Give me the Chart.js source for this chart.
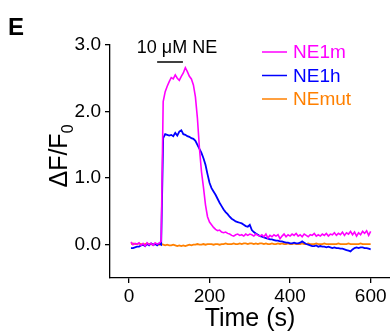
<!DOCTYPE html>
<html>
<head>
<meta charset="utf-8">
<script src="https://cdn.jsdelivr.net/npm/chart.js@4/dist/chart.umd.min.js"></script>
<style>
  html, body { margin: 0; padding: 0; background: #fff; }
  #wrap { width: 390px; height: 334px; }
</style>
</head>
<body>
<div id="wrap"><canvas id="myChart" width="390" height="334"></canvas></div>
<script>
// time (s)
const times = [
    5, 10, 15, 20, 25, 30, 35, 40, 45, 50,
    55, 60, 65, 70, 75, 80, 85, 90, 95, 100,
    105, 110, 115, 120, 125, 130, 135, 140, 145, 150,
    155, 160, 165, 170, 175, 180, 185, 190, 195, 200,
    205, 210, 215, 220, 225, 230, 235, 240, 245, 250,
    255, 260, 265, 270, 275, 280, 285, 290, 295, 300,
    305, 310, 315, 320, 325, 330, 335, 340, 345, 350,
    355, 360, 365, 370, 375, 380, 385, 390, 395, 400,
    405, 410, 415, 420, 425, 430, 435, 440, 445, 450,
    455, 460, 465, 470, 475, 480, 485, 490, 495, 500,
    505, 510, 515, 520, 525, 530, 535, 540, 545, 550,
    555, 560, 565, 570, 575, 580, 585, 590, 595, 600
];

const ne1m = [
    0.04, 0.00, 0.02, 0.01, 0.03, -0.01, 0.02, -0.02, 0.03, 0.00,
    0.02, -0.01, 0.03, 0.01, 0.02, 0.05, 2.15, 2.30, 2.38, 2.45,
    2.51, 2.49, 2.55, 2.50, 2.47, 2.53, 2.58, 2.66, 2.60, 2.53,
    2.49, 2.40, 2.22, 1.90, 1.45, 1.10, 0.86, 0.60, 0.42, 0.34,
    0.30, 0.26, 0.23, 0.21, 0.22, 0.19, 0.18, 0.19, 0.17, 0.16,
    0.14, 0.13, 0.15, 0.16, 0.14, 0.15, 0.13, 0.16, 0.14, 0.16,
    0.15, 0.13, 0.16, 0.14, 0.13, 0.15, 0.12, 0.16, 0.10, 0.14,
    0.12, 0.15, 0.13, 0.15, 0.09, 0.13, 0.16, 0.12, 0.15, 0.13,
    0.16, 0.14, 0.17, 0.13, 0.15, 0.12, 0.16, 0.14, 0.12, 0.15,
    0.14, 0.17, 0.13, 0.15, 0.13, 0.16, 0.14, 0.17, 0.13, 0.16,
    0.15, 0.18, 0.14, 0.17, 0.15, 0.19, 0.14, 0.18, 0.16, 0.20,
    0.15, 0.19, 0.13, 0.18, 0.15, 0.20, 0.17, 0.21, 0.14, 0.20
];

const ne1h = [
    -0.05, -0.05, -0.04, -0.03, -0.03, -0.01, 0.00, -0.02, 0.01, -0.01,
    0.02, 0.00, 0.01, -0.01, 0.02, 0.00, 1.60, 1.66, 1.65, 1.64,
    1.65, 1.63, 1.68, 1.64, 1.70, 1.72, 1.66, 1.65, 1.63, 1.62,
    1.60, 1.59, 1.56, 1.50, 1.44, 1.38, 1.30, 1.20, 1.06, 0.93,
    0.85, 0.80, 0.75, 0.69, 0.63, 0.58, 0.53, 0.49, 0.46, 0.42,
    0.39, 0.37, 0.35, 0.34, 0.33, 0.32, 0.30, 0.28, 0.27, 0.30,
    0.22, 0.19, 0.17, 0.15, 0.13, 0.12, 0.11, 0.10, 0.09, 0.08,
    0.08, 0.07, 0.06, 0.06, 0.05, 0.05, 0.04, 0.03, 0.03, 0.02,
    0.02, 0.03, 0.02, 0.02, 0.03, 0.05, 0.03, 0.01, 0.00, -0.01,
    -0.02, -0.02, -0.01, -0.03, -0.02, -0.03, -0.03, -0.04, -0.03, -0.04,
    -0.05, -0.04, -0.05, -0.05, -0.06, -0.06, -0.07, -0.08, -0.09, -0.10,
    -0.07, -0.05, -0.04, -0.05, -0.04, -0.04, -0.05, -0.05, -0.06, -0.07
];

const nemut = [
    0.01, 0.02, 0.01, 0.01, 0.02, 0.01, 0.00, 0.01, 0.02, 0.01,
    0.01, 0.00, 0.01, 0.01, 0.00, 0.01, 0.00, -0.01, 0.00, -0.01,
    -0.01, 0.00, -0.01, -0.02, -0.01, -0.02, -0.01, -0.02, -0.01, 0.00,
    -0.01, 0.00, 0.00, 0.01, 0.00, 0.00, 0.01, 0.00, 0.01, 0.01,
    0.01, 0.00, 0.01, 0.01, 0.00, 0.01, 0.01, 0.02, 0.01, 0.01,
    0.01, 0.02, 0.01, 0.01, 0.02, 0.01, 0.02, 0.02, 0.01, 0.02,
    0.02, 0.01, 0.02, 0.01, 0.02, 0.02, 0.01, 0.02, 0.01, 0.01,
    0.02, 0.01, 0.01, 0.02, 0.01, 0.02, 0.01, 0.01, 0.02, 0.01,
    0.01, 0.02, 0.01, 0.01, 0.01, 0.02, 0.01, 0.01, 0.02, 0.01,
    0.01, 0.01, 0.02, 0.01, 0.01, 0.01, 0.02, 0.01, 0.01, 0.01,
    0.01, 0.01, 0.01, 0.02, 0.01, 0.01, 0.01, 0.01, 0.02, 0.01,
    0.01, 0.01, 0.01, 0.01, 0.02, 0.01, 0.01, 0.01, 0.01, 0.01
];

const seriesNames = ['NE1m', 'NE1h', 'NEmut'];
const seriesColors = ['#ff00ff', '#0000ff', '#ff8000'];
const xTicks = [0, 200, 400, 600];
const yTicks = [0, 1, 2, 3];
// NE application window (s)
const neOn = 70;
const neOff = 134;

const FONT = '"Liberation Sans", Arial, sans-serif';

function toPoints(vals) {
    return times.map((t, i) => ({ x: t, y: vals[i] }));
}

// panel letter, y title, NE bar and legend
const annotations = {
    id: 'annotations',
    afterDraw(chart) {
        const c = chart.ctx;
        const xs = chart.scales.x;
        c.save();
        c.fillStyle = '#000';

        c.font = 'bold 24px ' + FONT;
        c.textAlign = 'left';
        c.textBaseline = 'alphabetic';
        c.fillText('E', 8, 35);

        // ΔF/F0
        c.save();
        c.translate(67, 156);
        c.rotate(-Math.PI / 2);
        c.font = '25px ' + FONT;
        let main = 'ΔF/F';
        let w = c.measureText(main).width;
        c.font = '16px ' + FONT;
        let sw = c.measureText('0').width;
        let x0 = -(w + sw) / 2;
        c.font = '25px ' + FONT;
        c.fillText(main, x0, 0);
        c.font = '16px ' + FONT;
        c.fillText('0', x0 + w, 6);
        c.restore();

        // stimulus bar
        let x1 = xs.getPixelForValue(neOn);
        let x2 = xs.getPixelForValue(neOff);
        c.strokeStyle = '#000';
        c.lineWidth = 1.5;
        c.beginPath();
        c.moveTo(x1, 62);
        c.lineTo(x2, 62);
        c.stroke();
        c.font = '18px ' + FONT;
        c.textAlign = 'center';
        c.fillText('10 μM NE', (x1 + x2) / 2 + 7, 53);

        // legend
        c.textAlign = 'left';
        c.textBaseline = 'middle';
        c.font = '19px ' + FONT;
        for (let i = 0; i < seriesNames.length; i++) {
            let y = 52 + i * 23.5;
            c.strokeStyle = seriesColors[i];
            c.lineWidth = 1.5;
            c.beginPath();
            c.moveTo(262, y);
            c.lineTo(287, y);
            c.stroke();
            c.fillStyle = seriesColors[i];
            c.fillText(seriesNames[i], 293, y + 1);
        }
        c.restore();
    }
};

const ctx = document.getElementById('myChart').getContext('2d');
const myChart = new Chart(ctx, {
    type: 'line',
    data: {
        datasets: [
            { label: seriesNames[0], data: toPoints(ne1m), borderColor: seriesColors[0], borderWidth: 1.6 },
            { label: seriesNames[1], data: toPoints(ne1h), borderColor: seriesColors[1], borderWidth: 1.8 },
            { label: seriesNames[2], data: toPoints(nemut), borderColor: seriesColors[2], borderWidth: 1.8 }
        ]
    },
    options: {
        responsive: false,
        animation: false,
        events: [],
        layout: { padding: { top: 45, right: 0, bottom: 0, left: 0 } },
        elements: { point: { radius: 0 }, line: { tension: 0 } },
        plugins: {
            legend: { display: false },
            tooltip: { enabled: false }
        },
        scales: {
            x: {
                type: 'linear',
                min: -47,
                max: 648,
                afterBuildTicks: (s) => { s.ticks = xTicks.map(v => ({ value: v })); },
                afterFit: (s) => { s.height = 56; },
                grid: { drawOnChartArea: false, drawTicks: true, tickLength: 5, color: '#000', lineWidth: 1.3 },
                border: { color: '#000', width: 1.3 },
                ticks: { color: '#000', padding: 2, font: { family: FONT, size: 19 }, maxRotation: 0 },
                title: { display: true, text: 'Time (s)', color: '#000', font: { family: FONT, size: 25 }, padding: { top: 0, bottom: 0 } }
            },
            y: {
                min: -0.5,
                max: 3.0,
                afterBuildTicks: (s) => { s.ticks = yTicks.map(v => ({ value: v })); },
                afterFit: (s) => { s.width = 110; },
                grid: { drawOnChartArea: false, drawTicks: true, tickLength: 5, color: '#000', lineWidth: 1.3 },
                border: { color: '#000', width: 1.3 },
                ticks: { color: '#000', padding: 4, font: { family: FONT, size: 19 }, callback: (v) => v.toFixed(1) }
            }
        }
    },
    plugins: [annotations]
});
</script>
</body>
</html>
